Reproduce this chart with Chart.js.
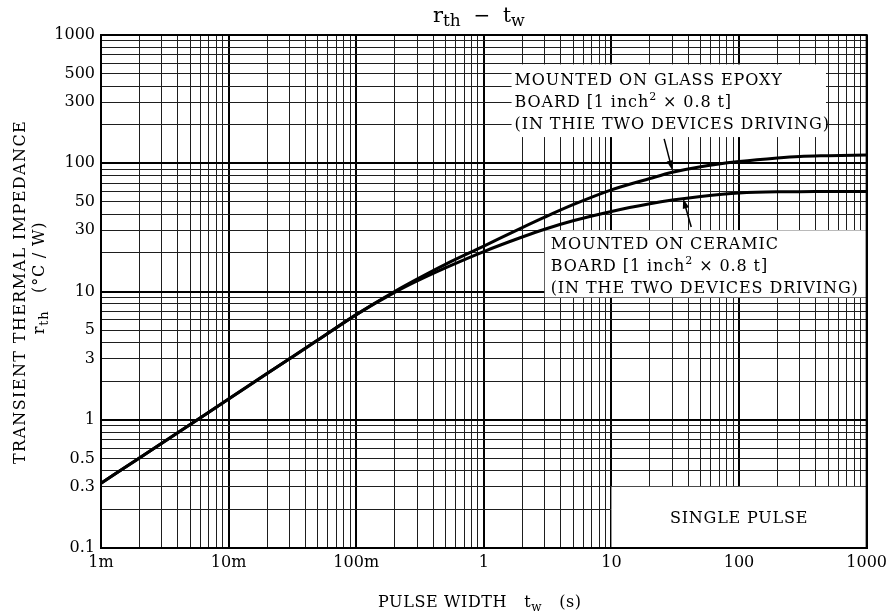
<!DOCTYPE html>
<html>
<head>
<meta charset="utf-8">
<script src="https://cdn.jsdelivr.net/npm/chart.js@4.4.0/dist/chart.umd.min.js"></script>
<style>
  html, body { margin: 0; padding: 0; background: #fff; }
  #wrap { width: 892px; height: 616px; }
</style>
</head>
<body>
<div id="wrap"><canvas id="rth" width="892" height="616"></canvas></div>
<script>
// values (log-log)
const pulseWidth = [0.001, 0.002, 0.005, 0.01, 0.02, 0.05, 0.1, 0.2, 0.3, 0.5, 1, 2, 3, 5, 10, 20, 30, 50, 100, 200, 300, 500, 1000];
const glassEpoxy = [0.32, 0.504, 0.92, 1.45, 2.29, 4.18, 6.6, 10.0, 12.5, 16.3, 22.6, 31.5, 38, 47.5, 62, 76, 85, 94, 103, 110, 113, 114.5, 116];
const ceramic    = [0.32, 0.504, 0.92, 1.45, 2.29, 4.18, 6.6, 9.85, 12.1, 15.3, 20.5, 26.6, 30.6, 35.6, 42.1, 48.3, 51.6, 55.1, 58.7, 59.9, 60.0, 60.2, 60.3];

// tick labels
const xTicks = [0.001, 0.01, 0.1, 1, 10, 100, 1000];
const xTickLabels = ["1m", "10m", "100m", "1", "10", "100", "1000"];
const yTicks = [0.1, 0.3, 0.5, 1, 3, 5, 10, 30, 50, 100, 300, 500, 1000];
const yTickLabels = ["0.1", "0.3", "0.5", "1", "3", "5", "10", "30", "50", "100", "300", "500", "1000"];

const SERIF = "'DejaVu Serif', 'Liberation Serif', serif";

// gridlines 1..9 x 10^n
function gridValues(minExp, maxExp) {
  const out = [];
  for (let e = minExp; e < maxExp; e++) {
    for (let m = 1; m <= 9; m++) out.push(parseFloat((m * Math.pow(10, e)).toPrecision(3)));
  }
  out.push(Math.pow(10, maxExp));
  return out;
}
function isMajor(v) {
  const l = Math.log10(v);
  return Math.abs(l - Math.round(l)) < 1e-6;
}
function labelFor(v, vals, labels) {
  const i = vals.findIndex(t => Math.abs(t - v) / t < 1e-6);
  return i >= 0 ? labels[i] : "";
}

function gridOpts() {
  return {
    drawTicks: false,
    color: c => (c.tick && isMajor(c.tick.value)) ? "#000" : "#1e1e1e",
    lineWidth: c => (c.tick && isMajor(c.tick.value)) ? 2 : 1
  };
}

// draws text made of pieces (for sub/superscripts)
function drawRich(ctx, parts, x0, y, align) {
  let total = 0;
  parts.forEach(p => { ctx.font = p.font; total += ctx.measureText(p.t).width; });
  let x = align === "left" ? x0 : x0 - total / 2;
  parts.forEach(p => {
    ctx.font = p.font;
    ctx.fillText(p.t, x, y + (p.dy || 0));
    x += ctx.measureText(p.t).width;
  });
}

function spaced(ctx, px) {
  if ("letterSpacing" in ctx) ctx.letterSpacing = px + "px";
}

// note boxes / arrows, in data coordinates
const glassBox = { x0: 1.65, x1: 480, y0: 160, y1: 590 };
const ceramicBox = { x0: 3, x1: 1000, y0: 9, y1: 30 };
const pulseBox = { x0: 10, x1: 1000, y0: 0.1, y1: 0.3 };
const glassText = ["MOUNTED ON GLASS EPOXY", "(IN THIE TWO DEVICES DRIVING)"];
const ceramicText = ["MOUNTED ON CERAMIC", "(IN THE TWO DEVICES DRIVING)"];
const glassArrow = { from: [25.9, 155], to: [30, 88] };
const ceramicArrow = { from: [42.2, 31.8], to: [36.5, 53] };

function boxPx(chart, b) {
  const xs = chart.scales.x, ys = chart.scales.y;
  const l = xs.getPixelForValue(b.x0), r = xs.getPixelForValue(b.x1);
  const t = ys.getPixelForValue(b.y1), bt = ys.getPixelForValue(b.y0);
  return { l, r, t, b: bt };
}

function arrow(ctx, chart, a) {
  const xs = chart.scales.x, ys = chart.scales.y;
  const x1 = xs.getPixelForValue(a.from[0]), y1 = ys.getPixelForValue(a.from[1]);
  const x2 = xs.getPixelForValue(a.to[0]), y2 = ys.getPixelForValue(a.to[1]);
  const ang = Math.atan2(y2 - y1, x2 - x1);
  const len = 10, half = 3.2;
  ctx.strokeStyle = "#000";
  ctx.lineWidth = 1.5;
  ctx.beginPath();
  ctx.moveTo(x1, y1);
  ctx.lineTo(x2 - Math.cos(ang) * len * 0.8, y2 - Math.sin(ang) * len * 0.8);
  ctx.stroke();
  ctx.fillStyle = "#000";
  ctx.beginPath();
  ctx.moveTo(x2, y2);
  ctx.lineTo(x2 - Math.cos(ang) * len + Math.sin(ang) * half, y2 - Math.sin(ang) * len - Math.cos(ang) * half);
  ctx.lineTo(x2 - Math.cos(ang) * len - Math.sin(ang) * half, y2 - Math.sin(ang) * len + Math.cos(ang) * half);
  ctx.closePath();
  ctx.fill();
}

// 3 lines of a note: title, board line with inch^2, driving line
function noteLines(ctx, lines, x, y) {
  ctx.font = "16px " + SERIF;
  ctx.fillText(lines[0], x, y);
  drawRich(ctx, [
    { t: "BOARD [1 inch", font: "16px " + SERIF },
    { t: "2", font: "11px " + SERIF, dy: -7 },
    { t: " × 0.8 t]", font: "16px " + SERIF }
  ], x, y + 22, "left");
  ctx.font = "16px " + SERIF;
  ctx.fillText(lines[1], x, y + 44);
}

const notesPlugin = {
  id: "notes",
  beforeDatasetsDraw(chart) {
    const ctx = chart.ctx;
    const area = chart.chartArea;
    ctx.save();
    // white boxes hide the grid under the notes
    ctx.fillStyle = "#fff";
    [glassBox, ceramicBox, pulseBox].forEach(b => {
      const p = boxPx(chart, b);
      ctx.fillRect(p.l, p.t, p.r - p.l, p.b - p.t);
    });
    // frame again
    ctx.strokeStyle = "#000";
    ctx.lineWidth = 2;
    ctx.strokeRect(area.left, area.top, area.right - area.left, area.bottom - area.top);
    ctx.restore();
  },
  afterDatasetsDraw(chart) {
    const ctx = chart.ctx;
    ctx.save();
    ctx.fillStyle = "#000";
    ctx.textBaseline = "alphabetic";
    ctx.textAlign = "left";
    spaced(ctx, 0.9);

    let g = boxPx(chart, glassBox);
    noteLines(ctx, glassText, g.l + 3, g.t + 21);
    let c = boxPx(chart, ceramicBox);
    noteLines(ctx, ceramicText, c.l + 6, c.t + 19);

    let p = boxPx(chart, pulseBox);
    ctx.textAlign = "center";
    ctx.font = "16px " + SERIF;
    spaced(ctx, 0.8);
    ctx.fillText("SINGLE PULSE", (p.l + p.r) / 2, (p.t + p.b) / 2 + 6);
    spaced(ctx, 0);

    arrow(ctx, chart, glassArrow);
    arrow(ctx, chart, ceramicArrow);
    ctx.restore();
  },
  afterDraw(chart) {
    const ctx = chart.ctx;
    const area = chart.chartArea;
    const cx = (area.left + area.right) / 2;
    ctx.save();
    ctx.fillStyle = "#000";
    ctx.textAlign = "left";
    ctx.textBaseline = "alphabetic";

    // title  r_th - t_w
    drawRich(ctx, [
      { t: "r", font: "21px " + SERIF },
      { t: "th", font: "17px " + SERIF, dy: 4 },
      { t: "  −  ", font: "20px " + SERIF },
      { t: "t", font: "20px " + SERIF },
      { t: "w", font: "16px " + SERIF, dy: 4 }
    ], cx - 5, 22);

    // x title
    spaced(ctx, 0.6);
    drawRich(ctx, [
      { t: "PULSE WIDTH   ", font: "16px " + SERIF },
      { t: "t", font: "16px " + SERIF },
      { t: "w", font: "12px " + SERIF, dy: 4 },
      { t: "   (s)", font: "16px " + SERIF }
    ], cx - 4, 607);

    // y title, two rotated lines
    ctx.save();
    ctx.translate(25, 292);
    ctx.rotate(-Math.PI / 2);
    spaced(ctx, 1.4);
    drawRich(ctx, [{ t: "TRANSIENT THERMAL IMPEDANCE", font: "16px " + SERIF }], 0, 0);
    ctx.restore();

    ctx.save();
    ctx.translate(44, 278);
    ctx.rotate(-Math.PI / 2);
    spaced(ctx, 0.8);
    drawRich(ctx, [
      { t: "r", font: "16px " + SERIF },
      { t: "th", font: "13px " + SERIF, dy: 4 },
      { t: "   (°C / W)", font: "16px " + SERIF }
    ], 0, 0);
    ctx.restore();
    ctx.restore();
  }
};

const ctx = document.getElementById("rth").getContext("2d");
const rthChart = new Chart(ctx, {
  type: "line",
  data: {
    datasets: [
      {
        label: "Glass epoxy board",
        data: pulseWidth.map((t, i) => ({ x: t, y: glassEpoxy[i] })),
        borderColor: "#000",
        borderWidth: 3,
        pointRadius: 0,
        cubicInterpolationMode: "monotone",
        fill: false
      },
      {
        label: "Ceramic board",
        data: pulseWidth.map((t, i) => ({ x: t, y: ceramic[i] })),
        borderColor: "#000",
        borderWidth: 3,
        pointRadius: 0,
        cubicInterpolationMode: "monotone",
        fill: false
      }
    ]
  },
  options: {
    responsive: false,
    animation: false,
    events: [],
    layout: { padding: { top: 35, right: 23, left: 0, bottom: 0 } },
    plugins: {
      legend: { display: false },
      tooltip: { enabled: false },
      title: { display: false }
    },
    scales: {
      x: {
        type: "logarithmic",
        min: 0.001,
        max: 1000,
        afterBuildTicks: s => { s.ticks = gridValues(-3, 3).map(v => ({ value: v })); },
        afterFit: s => { s.height = 68; },
        ticks: {
          autoSkip: false,
          maxRotation: 0,
          padding: 5,
          color: "#000",
          font: { family: SERIF, size: 16 },
          callback: v => labelFor(v, xTicks, xTickLabels)
        },
        grid: gridOpts(),
        border: { color: "#000", width: 2 }
      },
      y: {
        type: "logarithmic",
        min: 0.1,
        max: 1000,
        afterBuildTicks: s => { s.ticks = gridValues(-1, 3).map(v => ({ value: v })); },
        afterFit: s => { s.width = 101; },
        ticks: {
          autoSkip: false,
          padding: 6,
          color: "#000",
          font: { family: SERIF, size: 16 },
          callback: v => labelFor(v, yTicks, yTickLabels)
        },
        grid: gridOpts(),
        border: { color: "#000", width: 2 }
      }
    }
  },
  plugins: [notesPlugin]
});
</script>
</body>
</html>
